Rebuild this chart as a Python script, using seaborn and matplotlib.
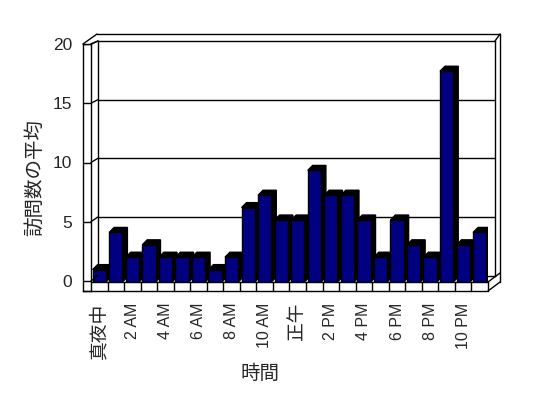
import numpy as np
import pandas as pd
import matplotlib
matplotlib.use("Agg")
import matplotlib.pyplot as plt
import matplotlib.transforms as mtransforms
from matplotlib.lines import Line2D
from matplotlib.patches import Polygon
import seaborn as sns

sns.set_style("white")
plt.rcParams['font.family'] = ['Liberation Sans', 'Noto Sans CJK JP', 'DejaVu Sans']

# データ
hours = ['真夜中', '1 AM', '2 AM', '3 AM', '4 AM', '5 AM', '6 AM', '7 AM', '8 AM', '9 AM',
         '10 AM', '11 AM', '正午', '1 PM', '2 PM', '3 PM', '4 PM', '5 PM', '6 PM', '7 PM',
         '8 PM', '9 PM', '10 PM', '11 PM']
visits = [1, 4, 2, 3, 2, 2, 2, 1, 2, 6, 7, 5, 5, 9, 7, 7, 5, 2, 5, 3, 2, 17, 3, 4]
y_ticks = [0, 5, 10, 15, 20]

W, H = 548, 398
fig = plt.figure(figsize=(W / 100, H / 100), dpi=100)


def rect(x0, x1, ytop, ybot):
    return [x0 / W, 1 - ybot / H, (x1 - x0) / W, (ybot - ytop) / H]


def fp(x, y):
    return x / W, 1 - y / H


def fline(p, q):
    (x0, y0), (x1, y1) = fp(*p), fp(*q)
    fig.add_artist(Line2D([x0, x1], [y0, y1], color='black', lw=1))


# 奥の壁（目盛線）
ax_wall = fig.add_axes(rect(98, 495, 41, 275.5))
ax_wall.set_xlim(0, 1)
ax_wall.set_ylim(0, 20)
ax_wall.set_xticks([])
ax_wall.set_yticks([])
for v in y_ticks[1:-1]:
    ax_wall.axhline(v, color='black', lw=1)
for s in ax_wall.spines.values():
    s.set_color('black')
    s.set_linewidth(1)

# 左の壁（Y軸ラベル）
ax_left = fig.add_axes(rect(83, 91, 44, 291))
ax_left.set_xlim(0, 1)
ax_left.set_ylim(-10 / 11.85, 20)
ax_left.set_xticks([])
ax_left.set_yticks(y_ticks)
ax_left.set_yticklabels([str(v) for v in y_ticks], fontsize=12.5)
ax_left.tick_params(axis='y', length=0, pad=8)
for v in y_ticks:
    ax_left.axhline(v, color='black', lw=1)
for s in ax_left.spines.values():
    s.set_color('black')
    s.set_linewidth(1)

# 左の壁から奥の壁への斜め線
inv = fig.transFigure.inverted()
for v in y_ticks:
    a = inv.transform(ax_left.transData.transform((1, v)))
    b = inv.transform(ax_wall.get_yaxis_transform().transform((0, v)))
    fig.add_artist(Line2D([a[0], b[0]], [a[1], b[1]], color='black', lw=1))

# 壁の上端と右端
fline((83, 44), (97, 34))
fline((91, 44), (98, 41))
fline((97, 34), (500, 34))
fline((495, 41), (500, 34))
fline((500, 34), (500, 282))

# 床
fline((83, 291), (488, 291))
fline((91, 282), (488, 282))
fline((488, 282), (488, 291))
fline((488, 291), (500, 282))
fline((488, 282), (500, 273))

# 棒グラフ
ax = fig.add_axes(rect(91, 488, 34, 282))
df = pd.DataFrame({'時間': hours, '訪問数の平均': visits})
sns.barplot(data=df, x='時間', y='訪問数の平均', color='#000080', saturation=1,
            edgecolor='black', linewidth=1, width=0.8, ax=ax, zorder=3)
ax.set_xlim(-0.5, 23.5)
ax.set_ylim(0, 20)
ax.patch.set_alpha(0)
for s in ax.spines.values():
    s.set_visible(False)
ax.set_yticks([])
ax.set_xlabel('')
ax.set_ylabel('')
ax.set_xticks(range(0, 24, 2))
ax.set_xticklabels(hours[::2], rotation=90, fontsize=11.5, va='top')
ax.tick_params(axis='x', length=0, pad=15)
for t in ax.get_xticklabels():
    if t.get_text() in ('真夜中', '正午'):
        t.set_fontsize(13.5)

# 棒の奥行き（上面と側面）
dx, dy = 0.30, 0.40
for p in ax.patches:
    x0 = p.get_x()
    x1 = x0 + p.get_width()
    h = p.get_height()
    poly = Polygon([(x0, h), (x0 + dx, h + dy), (x1 + dx, h + dy), (x1 + dx, dy),
                    (x1, 0), (x1, h)], closed=True, facecolor='black',
                   edgecolor='black', lw=1, zorder=2)
    ax.add_patch(poly)

# 床の区切り線
trans = mtransforms.blended_transform_factory(ax.transData, fig.transFigure)
for b in np.arange(0.5, 23.5, 1.0):
    ax.add_line(Line2D([b, b], [1 - 282 / H, 1 - 291 / H], color='black', lw=1,
                       transform=trans, clip_on=False))

# 軸タイトル
fig.text(35 / W, 1 - 177 / H, '訪問数の平均', rotation=90, ha='center', va='center', fontsize=14)
fig.text(260 / W, 1 - 374 / H, '時間', ha='center', va='center', fontsize=14)

fig.savefig('out.png', dpi=100)
